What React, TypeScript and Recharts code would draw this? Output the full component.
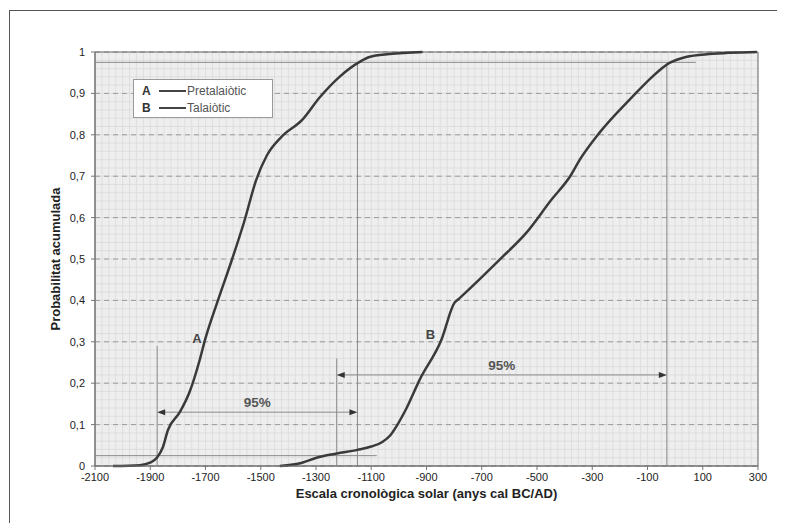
import React from "react";
import {
  LineChart,
  Line,
  XAxis,
  YAxis,
  CartesianGrid,
  ReferenceLine,
  ReferenceArea,
  ReferenceDot,
} from "recharts";

const X_TICKS = [-2100, -1900, -1700, -1500, -1300, -1100, -900, -700, -500, -300, -100, 100, 300];
const Y_TICKS = [0, 0.1, 0.2, 0.3, 0.4, 0.5, 0.6, 0.7, 0.8, 0.9, 1];

// A - Pretalaiòtic
const A_YEARS = [-2035, -1937, -1901, -1876, -1854, -1836, -1793, -1757, -1721, -1702, -1655, -1605, -1560, -1517, -1478, -1425, -1350, -1287, -1215, -1142, -1106, -1034, -915];
const A_PROB = [0, 0.002, 0.008, 0.02, 0.046, 0.087, 0.13, 0.18, 0.256, 0.304, 0.4, 0.497, 0.59, 0.69, 0.75, 0.795, 0.836, 0.89, 0.94, 0.976, 0.988, 0.995, 1];

// B - Talaiòtic
const B_YEARS = [-1431, -1350, -1298, -1225, -1150, -1100, -1060, -1030, -1005, -972, -925, -846, -799, -781, -636, -539, -448, -380, -345, -275, -156, -83, -22, 39, 122, 296];
const B_PROB = [0, 0.008, 0.02, 0.03, 0.039, 0.047, 0.058, 0.075, 0.1, 0.14, 0.208, 0.305, 0.394, 0.405, 0.498, 0.563, 0.643, 0.7, 0.74, 0.804, 0.891, 0.94, 0.973, 0.988, 0.995, 1];

// 95% intervals (2.5% - 97.5%)
const A_RANGE = [-1875, -1150];
const B_RANGE = [-1225, -30];
const ARROW_Y = [0.13, 0.22];

const aData = A_YEARS.map((year, i) => ({ year, p: A_PROB[i] }));
const bData = B_YEARS.map((year, i) => ({ year, p: B_PROB[i] }));

const MINOR_X = Array.from({ length: 97 }, (_, i) => -2100 + i * 25);
const MINOR_Y = Array.from({ length: 51 }, (_, i) => i * 0.02);

const FONT = "'Liberation Sans', Arial, sans-serif";
const GUIDE = "#8a8a8a";

function fmtY(v: number) {
  if (v === 0 || v === 1) return String(v);
  return v.toFixed(1).replace(".", ",");
}

function ArrowShape(props: any) {
  const { x1, y1, x2 } = props;
  const left = Math.min(x1, x2);
  const right = Math.max(x1, x2);
  const y = y1;
  return (
    <g>
      <line x1={left + 6} y1={y} x2={right - 6} y2={y} stroke={GUIDE} strokeWidth={1} />
      <path d={`M${left},${y} L${left + 8},${y - 3} L${left + 8},${y + 3} Z`} fill="#333" />
      <path d={`M${right},${y} L${right - 8},${y - 3} L${right - 8},${y + 3} Z`} fill="#333" />
      <text
        x={(left + right) / 2}
        y={y - 5}
        textAnchor="middle"
        fontFamily={FONT}
        fontSize={13.5}
        fontWeight="bold"
        fill="#555"
      >
        95%
      </text>
    </g>
  );
}

function letterShape(letter: string) {
  return (props: any) => (
    <text
      x={props.cx}
      y={props.cy + 5}
      textAnchor="middle"
      fontFamily={FONT}
      fontSize={13}
      fontWeight="bold"
      fill="#444"
    >
      {letter}
    </text>
  );
}

export default function App() {
  return (
    <div style={{ position: "relative", width: 769, height: 515 }}>
      <div
        style={{
          position: "absolute",
          left: 1,
          top: 2,
          width: 768,
          height: 513,
          borderTop: "1px solid #555",
          borderLeft: "1px solid #555",
          pointerEvents: "none",
        }}
      />
      <LineChart
        width={769}
        height={515}
        margin={{ top: 44, right: 19, bottom: 22, left: 37 }}
        style={{ fontFamily: FONT }}
      >
        <CartesianGrid
          fill="#eeeeee"
          stroke="#dadada"
          strokeWidth={0.8}
          verticalValues={MINOR_X}
          horizontalValues={MINOR_Y}
        />
        <CartesianGrid
          vertical={false}
          stroke="#9a9a9a"
          strokeDasharray="5 4"
          horizontalValues={Y_TICKS}
        />
        <XAxis
          dataKey="year"
          type="number"
          domain={[-2100, 300]}
          ticks={X_TICKS}
          allowDataOverflow
          interval={0}
          height={35}
          tickSize={4}
          tickMargin={3}
          stroke="#777"
          tick={{ fill: "#222", fontSize: 11 }}
          label={{
            value: "Escala cronològica solar (anys cal BC/AD)",
            position: "insideBottom",
            offset: 3,
            style: { fontSize: 13, fontWeight: "bold", fill: "#222" },
          }}
        />
        <YAxis
          type="number"
          domain={[0, 1]}
          ticks={Y_TICKS}
          interval={0}
          width={50}
          tickSize={4}
          tickMargin={6}
          stroke="#777"
          tickFormatter={fmtY}
          tick={{ fill: "#222", fontSize: 11 }}
          label={{
            value: "Probabilitat acumulada",
            angle: -90,
            position: "insideLeft",
            offset: 10,
            style: { fontSize: 13, fontWeight: "bold", fill: "#222", textAnchor: "middle" },
          }}
        />
        <ReferenceArea x1={-2100} x2={300} y1={0} y2={1} fill="none" stroke="#6b6b6b" strokeWidth={1} />

        <ReferenceLine segment={[{ x: -2100, y: 0.025 }, { x: -1080, y: 0.025 }]} stroke={GUIDE} strokeWidth={1} />
        <ReferenceLine segment={[{ x: -2100, y: 0.975 }, { x: 75, y: 0.975 }]} stroke={GUIDE} strokeWidth={1} />
        <ReferenceLine segment={[{ x: A_RANGE[0], y: 0 }, { x: A_RANGE[0], y: 0.29 }]} stroke={GUIDE} strokeWidth={1} />
        <ReferenceLine segment={[{ x: A_RANGE[1], y: 0 }, { x: A_RANGE[1], y: 0.975 }]} stroke={GUIDE} strokeWidth={1} />
        <ReferenceLine segment={[{ x: B_RANGE[0], y: 0 }, { x: B_RANGE[0], y: 0.26 }]} stroke={GUIDE} strokeWidth={1} />
        <ReferenceLine segment={[{ x: B_RANGE[1], y: 0 }, { x: B_RANGE[1], y: 0.975 }]} stroke={GUIDE} strokeWidth={1} />

        <ReferenceLine
          segment={[{ x: A_RANGE[0], y: ARROW_Y[0] }, { x: A_RANGE[1], y: ARROW_Y[0] }]}
          shape={ArrowShape}
        />
        <ReferenceLine
          segment={[{ x: B_RANGE[0], y: ARROW_Y[1] }, { x: B_RANGE[1], y: ARROW_Y[1] }]}
          shape={ArrowShape}
        />

        <Line
          data={aData}
          dataKey="p"
          type="monotone"
          stroke="#3a3a3a"
          strokeWidth={2.5}
          dot={false}
          isAnimationActive={false}
        />
        <Line
          data={bData}
          dataKey="p"
          type="monotone"
          stroke="#3a3a3a"
          strokeWidth={2.5}
          dot={false}
          isAnimationActive={false}
        />

        <ReferenceDot x={-1731} y={0.31} r={0} shape={letterShape("A")} />
        <ReferenceDot x={-886} y={0.32} r={0} shape={letterShape("B")} />
      </LineChart>

      <div
        style={{
          position: "absolute",
          left: 125,
          top: 71,
          width: 140,
          height: 39,
          background: "#fff",
          border: "1px solid #999",
          fontFamily: FONT,
          fontSize: 12,
          color: "#555",
          boxSizing: "border-box",
          padding: "2px 0 0 8px",
        }}
      >
        {[
          ["A", "Pretalaiòtic"],
          ["B", "Talaiòtic"],
        ].map(([k, name]) => (
          <div key={k} style={{ display: "flex", alignItems: "center", height: 17 }}>
            <span style={{ fontWeight: "bold", fontSize: 12, width: 17, color: "#333" }}>{k}</span>
            <span style={{ display: "inline-block", width: 27, height: 2, background: "#444", marginRight: 1 }} />
            <span>{name}</span>
          </div>
        ))}
      </div>
    </div>
  );
}
